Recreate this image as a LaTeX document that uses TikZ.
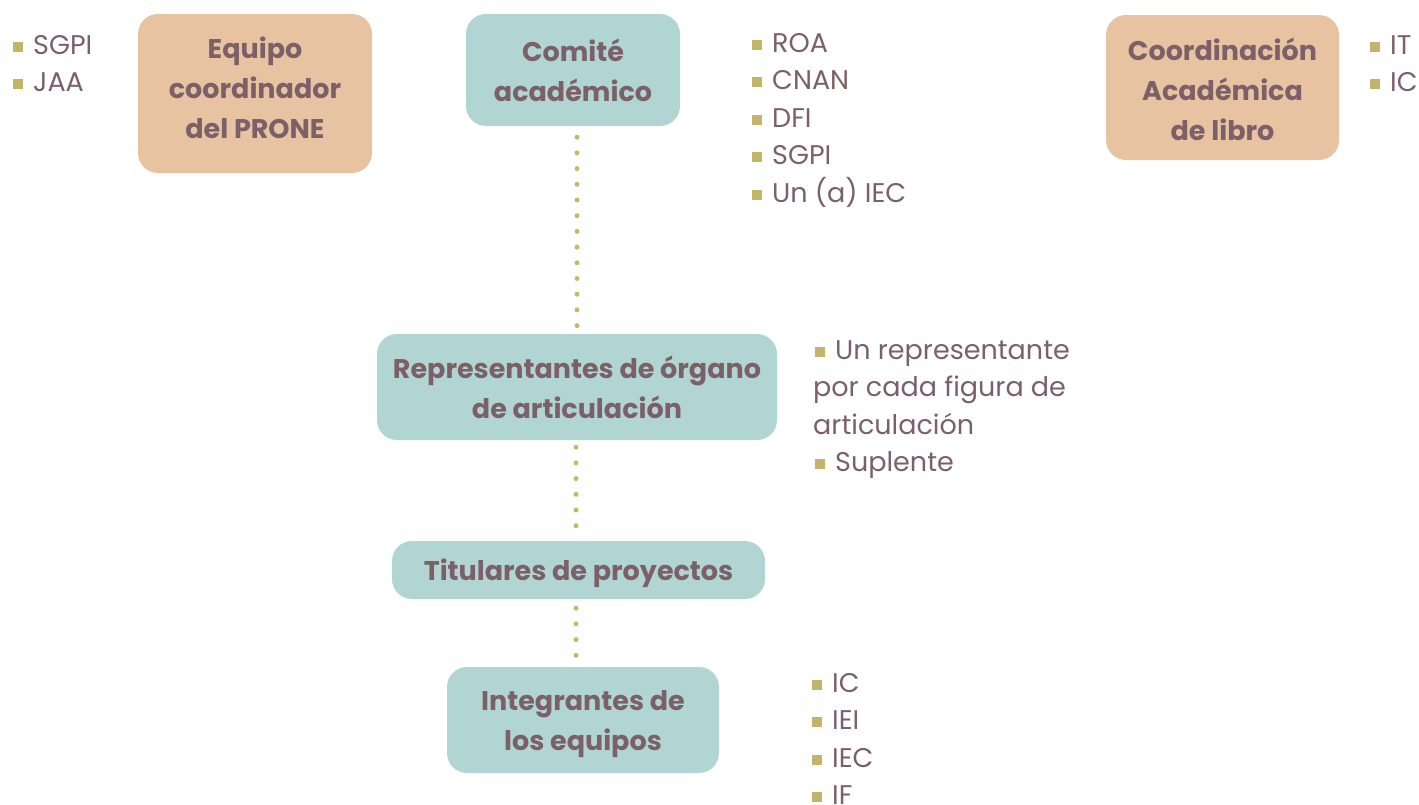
\documentclass[tikz,border=0pt]{standalone}
\usepackage{fontspec}
\setmainfont{Poppins}
\usetikzlibrary{calc}
\definecolor{peach}{HTML}{E8C3A2}
\definecolor{teal}{HTML}{B1D5D2}
\definecolor{txt}{HTML}{7B6068}
\definecolor{bulc}{HTML}{C2B46A}
\definecolor{dotc}{HTML}{C8B865}
\newcommand{\bl}{{\color{bulc}\rule[3pt]{10pt}{10pt}}\hspace{10pt}}
\tikzset{
  box/.style={rounded corners=20pt, inner sep=0pt},
  pbox/.style={box, fill=peach},
  tbox/.style={box, fill=teal},
  btxt/.style={inner sep=0pt, align=center, text=txt,
    font=\fontsize{27}{40}\selectfont\bfseries},
  item/.style={anchor=west, inner sep=0pt, text=txt, font=\fontsize{27}{37}\selectfont,
    text height=19pt, text depth=0pt},
  dots/.style={draw=dotc, line width=5pt, line cap=round, dash pattern=on 0pt off 15.7pt}
}
\begin{document}
\begin{tikzpicture}[x=1pt,y=-1pt]
\useasboundingbox (0,0) rectangle (1419,804);
\node[pbox, minimum width=234pt, minimum height=159pt] (equipo) at (255,93.5) {};
\node[btxt] (equipoT) at ($(equipo.center)+(0,-5.5)$) {Equipo\\coordinador\\del PRONE};
\node[tbox, minimum width=214pt, minimum height=112pt] (comite) at (573,70) {};
\node[btxt] (comiteT) at (comite.center) {Comité\\académico};
\node[pbox, minimum width=233pt, minimum height=145pt] (coord) at (1222.5,87.5) {};
\node[btxt] (coordT) at ($(coord.center)+(0,2)$) {Coordinación\\Académica\\de libro};
\node[tbox, minimum width=400pt, minimum height=106pt] (rep) at (577,387) {};
\node[btxt] (repT) at ($(rep.center)+(0,0.5)$) {Representantes de órgano\\de articulación};
\node[tbox, minimum width=373pt, minimum height=58pt] (tit) at (578.5,570) {};
\node[btxt] (titT) at ($(tit.center)+(0,3)$) {Titulares de proyectos};
\node[tbox, minimum width=272pt, minimum height=106pt] (int) at (583,720) {};
\node[btxt] (intT) at ($(int.center)+(0,4)$) {Integrantes de\\los equipos};

% lists
\node[item] (l1) at (13,45) {\bl SGPI};
\node[item] (l2) at (13,82) {\bl JAA};

\node[item] (c1) at (752,43) {\bl ROA};
\node[item] (c2) at (752,80) {\bl CNAN};
\node[item] (c3) at (752,118) {\bl DFI};
\node[item] (c4) at (752,155) {\bl SGPI};
\node[item] (c5) at (752,193) {\bl Un (a) IEC};

\node[item] (r1) at (1370,45) {\bl IT};
\node[item] (r2) at (1370,82) {\bl IC};

\node[item] (p1) at (815,350) {\bl Un representante};
\node[item] (p2) at (813,387) {por cada figura de};
\node[item] (p3) at (813,425) {articulación};
\node[item] (p4) at (815,462) {\bl Suplente};

\node[item] (i1) at (812,683) {\bl IC};
\node[item] (i2) at (812,720) {\bl IEI};
\node[item] (i3) at (812,758) {\bl IEC};
\node[item] (i4) at (812,795) {\bl IF};

% connectors
\draw[dots, shorten <=11pt] (comite.south -| rep.north) -- (rep.north);
\draw[dots, shorten <=7pt] ($(rep.south)+(-1,0)$) -- ($(rep.south |- tit.north)+(-1,0)$);
\draw[dots, shorten <=9pt] ($(tit.south)+(-2.5,0)$) -- ($(tit.south |- int.north)+(-2.5,0)$);
\end{tikzpicture}
\end{document}
